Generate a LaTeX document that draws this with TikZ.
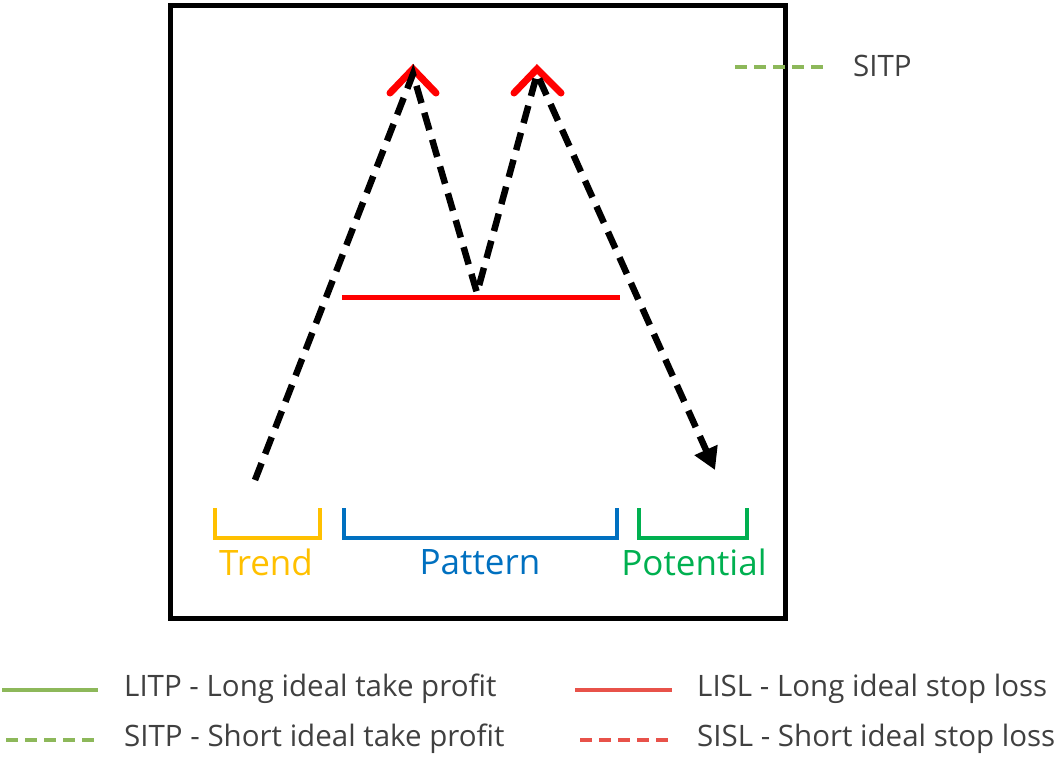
\documentclass[tikz,border=0pt]{standalone}
\usepackage{fontspec}
\setmainfont{Open Sans}
\usetikzlibrary{arrows.meta}
\definecolor{lgreen}{HTML}{8DB85A}
\definecolor{lred}{HTML}{E8524A}
\definecolor{txt}{HTML}{404040}
\definecolor{tyel}{HTML}{FFC000}
\definecolor{tblue}{HTML}{0070C0}
\definecolor{tgreen}{HTML}{00B050}
\tikzset{
 legtxt/.style={font=\fontsize{29.5}{33}\selectfont, text=txt, anchor=west, inner sep=0},
 lbl/.style={font=\fontsize{35}{38}\selectfont, inner sep=0},
 brk/.style={line width=4.5pt},
 legline/.style={line width=4pt},
 legdash/.style={line width=4pt, dash pattern=on 12pt off 7pt},
}
\begin{document}
\begin{tikzpicture}[x=1pt,y=-1pt]
\useasboundingbox (0,0) rectangle (1060,758);
\draw[line width=5pt] (170,5) rectangle (785,618);
% red support line
\draw[red, line width=5pt] (342,297) -- (620,297);
% chevrons
\draw[red, line width=7pt, line cap=round, line join=miter] (390,93) -- (413,69) -- (436,93);
\draw[red, line width=7pt, line cap=round, line join=miter] (514,93) -- (537,69) -- (561,93);
% path
\coordinate (p0) at (255,480);
\coordinate (p1) at (413,74);
\coordinate (p2) at (477,293);
\coordinate (p3) at (537,74);
\coordinate (p4) at (715,470);
\draw[line width=6.5pt, dash pattern=on 18pt off 10pt, -{Triangle[length=22pt,width=24pt]}]
 (p0) -- (p1) -- (p2) -- (p3) -- (p4);
% brackets
\draw[brk, tyel] (215,508) -- (215,538) -- (320,538) -- (320,508);
\draw[brk, tblue] (344,508) -- (344,538) -- (617,538) -- (617,508);
\draw[brk, tgreen] (639,508) -- (639,538) -- (747,538) -- (747,508);
\node[lbl, text=tyel] (trend) at (266,562) {Trend};
\node[lbl, text=tblue] (pattern) at (480,562) {Pattern};
\node[lbl, text=tgreen] (potential) at (694,562) {Potential};
% top-right legend
\draw[legdash, lgreen] (735,67) -- (828,67);
\node[legtxt] (sitp) at (853,66) {SITP};
% bottom legend
\draw[legline, lgreen] (2,690) -- (98,690);
\node[legtxt] (litpL) at (124,689) {LITP - Long ideal take profit};
\draw[legdash, lgreen] (6,740) -- (98,740);
\node[legtxt] (sitpL) at (124,739) {SITP - Short ideal take profit};
\draw[legline, lred] (575,690) -- (672,690);
\node[legtxt] (lisl) at (697,689) {LISL - Long ideal stop loss};
\draw[legdash, lred] (580,740) -- (672,740);
\node[legtxt] (sisl) at (697,739) {SISL - Short ideal stop loss};
\end{tikzpicture}
\end{document}
